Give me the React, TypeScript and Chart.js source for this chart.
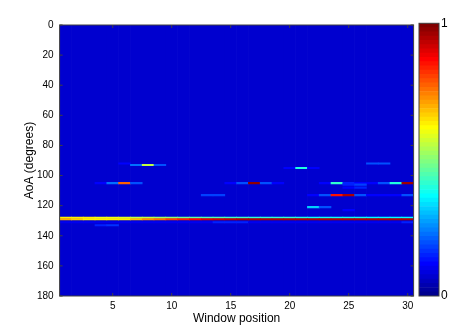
import React, { useEffect, useRef } from "react";
import { Chart, registerables } from "chart.js";

Chart.register(...registerables);

// ---------- data ----------
const WINDOWS = ["1","2","3","4","5","6","7","8","9","10","11","12","13","14","15","16","17","18","19","20","21","22","23","24","25","26","27","28","29","30"];
const X_TICK_LABELS = ["5", "10", "15", "20", "25", "30"];
const AOA_TICKS = [0, 20, 40, 60, 80, 100, 120, 140, 160, 180];
const CB_TICKS = [0, 1];
const BACKGROUND_LEVEL = 0.07;

// AoA rows (degrees) and their normalised values per window position (0 = background)
const ROW_AOA = [92, 93, 95, 105, 106, 108, 113, 121, 123, 128, 129, 131, 133];
const row92 =  [0,0,0,0,0,0.12,0,0,0,0,0,0,0,0,0,0,0,0,0,0,0,0,0,0,0,0,0.2,0.2,0,0];
const row93 =  [0,0,0,0,0,0,0.22,0.55,0.2,0,0,0,0,0,0,0,0,0,0,0,0,0,0,0,0,0,0,0,0,0];
const row95 =  [0,0,0,0,0,0,0,0,0,0,0,0,0,0,0,0,0,0,0,0.12,0.4,0.12,0,0,0,0,0,0,0,0];
const row105 = [0,0,0,0.12,0.22,0.77,0.2,0,0,0,0,0,0,0,0.12,0.2,0.97,0.2,0.12,0,0,0,0.12,0.42,0.15,0.12,0.12,0.2,0.4,0.96];
const row106 = [0,0,0,0,0,0,0,0,0,0,0,0,0,0,0,0,0,0,0,0,0,0,0,0,0.15,0.18,0,0,0,0];
const row108 = [0,0,0,0,0,0,0,0,0,0,0,0,0,0,0,0,0,0,0,0,0,0,0,0,0.12,0.15,0,0,0,0];
const row113 = [0,0,0,0,0,0,0,0,0,0,0,0,0.18,0.18,0,0,0,0,0,0,0,0.12,0.2,0.85,0.95,0.2,0.12,0.12,0.12,0.2];
const row121 = [0,0,0,0,0,0,0,0,0,0,0,0,0,0,0,0,0,0,0,0,0,0.32,0.2,0,0,0,0,0,0,0];
const row123 = [0,0,0,0,0,0,0,0,0,0,0,0,0,0,0,0,0,0,0,0,0,0,0,0,0.12,0,0,0,0,0];
const row128 = [0.64,0.63,0.63,0.6,0.6,0.58,0.56,0.55,0.53,0.5,0.48,0.46,0.45,0.44,0.43,0.43,0.42,0.42,0.41,0.41,0.4,0.39,0.39,0.38,0.38,0.38,0.37,0.37,0.37,0.36];
const row129 = [0.7,0.66,0.64,0.63,0.63,0.64,0.68,0.72,0.76,0.8,0.84,0.87,0.9,0.92,0.93,0.94,0.94,0.95,0.95,0.95,0.95,0.95,0.95,0.95,0.95,0.95,0.95,0.95,0.95,0.95];
const row131 = [0.1,0.1,0.1,0.1,0.1,0.1,0.1,0.1,0.1,0.1,0.1,0.1,0.1,0.15,0.15,0.15,0.1,0.1,0.1,0.1,0.1,0.1,0.1,0.1,0.1,0.1,0.1,0.1,0.1,0.15];
const row133 = [0,0,0,0.15,0.17,0,0,0,0,0,0,0,0,0,0,0,0,0,0,0,0,0,0,0,0,0,0,0,0,0];
const ROW_VALUES = [row92, row93, row95, row105, row106, row108, row113, row121, row123, row128, row129, row131, row133];

// ---------- MATLAB jet(64) colormap ----------
function jetU(k: number) {
  if (k < 1 || k > 47) return 0;
  if (k <= 16) return k / 16;
  if (k <= 31) return 1;
  return (48 - k) / 16;
}
function jet(v: number) {
  const j = Math.min(64, Math.max(1, Math.floor(v * 64) + 1));
  const r = Math.round(255 * jetU(j - 24));
  const g = Math.round(255 * jetU(j - 8));
  const b = Math.round(255 * jetU(j + 8));
  return `rgb(${r},${g},${b})`;
}

const FONT = "'Liberation Sans', Arial, Helvetica, sans-serif";

const framePlugin = {
  id: "frame",
  afterDatasetsDraw(chart: any, _a: any, opts: any) {
    const { ctx, chartArea: ca } = chart;
    ctx.save();
    ctx.strokeStyle = "#404040";
    ctx.lineWidth = 1;
    if (opts && opts.ticks) {
      const tl = 3;
      const xs = chart.scales.x;
      const ys = chart.scales.y;
      ctx.beginPath();
      xs.ticks.forEach((t: any, i: number) => {
        const lbl = xs.getLabelForValue(t.value);
        if (!X_TICK_LABELS.includes(lbl)) return;
        const px = xs.getPixelForTick(i);
        ctx.moveTo(px, ca.bottom);
        ctx.lineTo(px, ca.bottom - tl);
        ctx.moveTo(px, ca.top);
        ctx.lineTo(px, ca.top + tl);
      });
      AOA_TICKS.forEach((v) => {
        const py = ys.getPixelForValue(v);
        ctx.moveTo(ca.left, py);
        ctx.lineTo(ca.left + tl, py);
        ctx.moveTo(ca.right, py);
        ctx.lineTo(ca.right - tl, py);
      });
      ctx.stroke();
    }
    ctx.strokeRect(ca.left, ca.top, ca.right - ca.left, ca.bottom - ca.top);
    ctx.restore();
  },
};

export default function App() {
  const mainRef = useRef<HTMLCanvasElement>(null);
  const cbRef = useRef<HTMLCanvasElement>(null);

  useEffect(() => {
    const datasets: any[] = [];
    // background level for every column
    datasets.push({
      data: WINDOWS.map(() => [0, 180]),
      backgroundColor: WINDOWS.map(() => jet(BACKGROUND_LEVEL)),
      order: 10,
    });
    ROW_AOA.forEach((aoa, r) => {
      const vals = ROW_VALUES[r];
      datasets.push({
        data: vals.map((v) => (v > 0 ? [aoa - 0.5, aoa + 0.5] : null)),
        backgroundColor: vals.map((v) => jet(v > 0 ? v : BACKGROUND_LEVEL)),
        order: -aoa,
      });
    });

    const main = new Chart(mainRef.current as HTMLCanvasElement, {
      type: "bar",
      data: { labels: WINDOWS, datasets },
      options: {
        responsive: false,
        animation: false,
        events: [],
        layout: { padding: { top: 25, right: 43.4, left: 0, bottom: 0 } },
        datasets: {
          bar: { grouped: false, barPercentage: 1, categoryPercentage: 1, borderWidth: 0 },
        } as any,
        plugins: {
          legend: { display: false },
          tooltip: { enabled: false },
          frame: { ticks: true },
        } as any,
        scales: {
          x: {
            type: "category",
            offset: true,
            grid: { display: false, drawTicks: false },
            border: { display: false },
            ticks: {
              autoSkip: false,
              maxRotation: 0,
              padding: 4,
              color: "#000",
              font: { family: FONT, size: 10 },
              callback: function (this: any, val: any) {
                const l = this.getLabelForValue(val);
                return X_TICK_LABELS.includes(l) ? l : "";
              },
            },
            title: {
              display: true,
              text: "Window position",
              color: "#000",
              font: { family: FONT, size: 12 },
              padding: { top: 0, bottom: 8 },
            },
            afterFit: (s: any) => { s.height = 38; },
          },
          y: {
            type: "linear",
            reverse: true,
            min: 0,
            max: 180,
            grid: { display: false, drawTicks: false },
            border: { display: false },
            afterBuildTicks: (s: any) => { s.ticks = AOA_TICKS.map((v) => ({ value: v })); },
            ticks: {
              padding: 6,
              color: "#000",
              font: { family: FONT, size: 10 },
            },
            title: {
              display: true,
              text: "AoA (degrees)",
              color: "#000",
              font: { family: FONT, size: 12 },
              padding: { top: 22, bottom: 0 },
            },
            afterFit: (s: any) => { s.width = 59.6; },
          },
        },
      } as any,
      plugins: [framePlugin],
    });

    const cbDatasets: any[] = [];
    for (let k = 0; k < 64; k++) {
      cbDatasets.push({ data: [1 / 64], backgroundColor: jet((k + 0.5) / 64) });
    }
    const cb = new Chart(cbRef.current as HTMLCanvasElement, {
      type: "bar",
      data: { labels: ["cb"], datasets: cbDatasets },
      options: {
        responsive: false,
        animation: false,
        events: [],
        layout: { padding: { top: 23.3, bottom: 38, left: 9, right: 0 } },
        datasets: { bar: { barPercentage: 1, categoryPercentage: 1, borderWidth: 0 } } as any,
        plugins: { legend: { display: false }, tooltip: { enabled: false }, frame: { ticks: false } } as any,
        scales: {
          x: { display: false, stacked: true, offset: true },
          y: {
            position: "right",
            stacked: true,
            min: 0,
            max: 1,
            grid: { display: false, drawTicks: false },
            border: { display: false },
            afterBuildTicks: (s: any) => { s.ticks = CB_TICKS.map((v) => ({ value: v })); },
            ticks: { padding: 2, color: "#000", font: { family: FONT, size: 12 } },
            afterFit: (s: any) => { s.width = 18; },
          },
        },
      } as any,
      plugins: [framePlugin],
    });

    return () => {
      main.destroy();
      cb.destroy();
    };
  }, []);

  return (
    <div style={{ position: "absolute", left: 0, top: 0, width: 457, height: 334, background: "#fff" }}>
      <canvas ref={mainRef} width={457} height={334} style={{ position: "absolute", left: 0, top: 0 }} />
      <canvas ref={cbRef} width={47} height={334} style={{ position: "absolute", left: 410, top: 0 }} />
    </div>
  );
}
